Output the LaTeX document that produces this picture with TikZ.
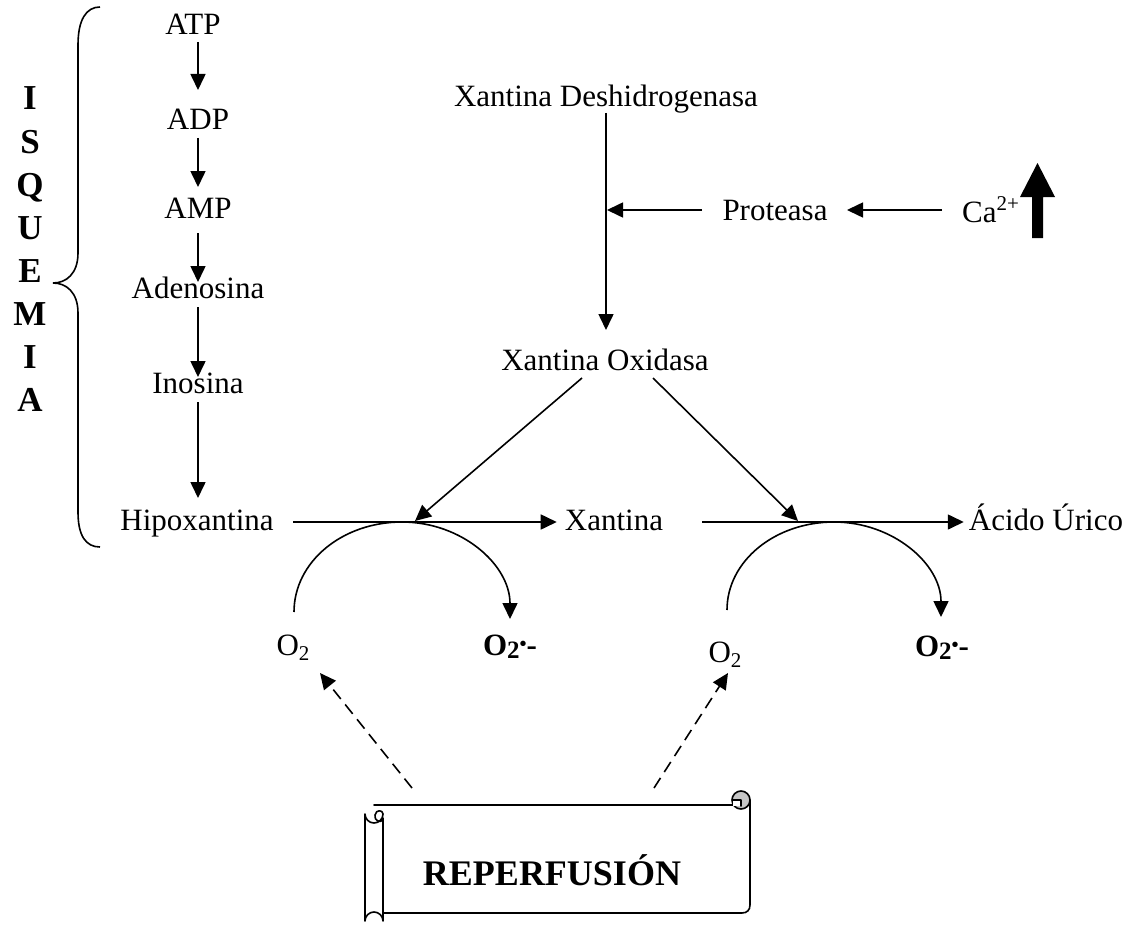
\documentclass[tikz,border=0pt]{standalone}
\usepackage{fontspec}
\setmainfont{Liberation Serif}
\usetikzlibrary{arrows.meta,calc}
\newcommand{\myotwo}{O\raisebox{-5pt}{\fontsize{21}{21}\selectfont 2}}
\newcommand{\myosup}{\textbf{O\raisebox{-3pt}{\fontsize{25}{25}\selectfont 2}\raisebox{5pt}{\fontsize{20}{20}\selectfont •}-}}
\begin{document}
\begin{tikzpicture}[x=1pt,y=-1pt,
  txt/.style={inner sep=0pt, anchor=base, font=\fontsize{31}{37}\selectfont},
  bigb/.style={inner sep=0pt, anchor=base, font=\fontsize{35}{42}\selectfont\bfseries},
  lin/.style={line width=1.6pt},
  arr/.style={lin, -{Triangle[length=16pt,width=15pt]}},
  darr/.style={arr, dash pattern=on 12pt off 7pt},
  scrl/.style={line width=1.6pt, line join=round, line cap=round}]
\useasboundingbox (0,0) rectangle (1135,931);

% ---- left column
\node[txt] (atp)  at (193,35)  {ATP};
\node[txt] (adp)  at (198,130) {ADP};
\node[txt] (amp)  at (198,218) {AMP};
\node[txt] (ade)  at (198,298) {Adenosina};
\node[txt] (ino)  at (198,393) {Inosina};
\node[txt] (hipo) at (197,530) {Hipoxantina};

\foreach \l [count=\i from 0] in {I,S,Q,U,E,M,I,A}
  \node[bigb] (isq\i) at (30,110+43.1*\i) {\l};

% brace
\draw[lin] (100,7) .. controls (86,7) and (78,20) .. (78,45) -- (78,253)
  .. controls (78,274) and (66,283) .. (53,283)
  .. controls (66,283) and (78,292) .. (78,313) -- (78,512)
  .. controls (78,536) and (86,547) .. (100,547);

\draw[arr] ($(atp.base)+(5,7)$) -- ($(adp.base)+(0,-40)$);
\draw[arr] ($(adp.base)+(0,8)$) -- ($(amp.base)+(0,-31)$);
\draw[arr] ($(amp.base)+(0,15)$) -- ($(ade.base)+(0,-16)$);
\draw[arr] ($(ade.base)+(0,9)$) -- ($(ino.base)+(0,-16)$);
\draw[arr] ($(ino.base)+(0,9)$) -- ($(hipo.base)+(1,-32)$);

% ---- enzymes
\node[txt] (xd)   at (606,107) {Xantina Deshidrogenasa};
\node[txt] (xo)   at (605,370) {Xantina Oxidasa};
\node[txt] (prot) at (775,220) {Proteasa};
\node[txt, anchor=base west] (ca) at (962,222) {Ca\raisebox{12pt}{\fontsize{21}{21}\selectfont 2+}};
\coordinate (j1) at ($(xd.base)+(1,103)$);

\draw[arr] ($(xd.base)+(0,6)$) -- ($(xo.base)+(1,-40)$);
\draw[arr] ($(prot.base)+(-73,-10)$) -- (j1);
\draw[arr] ($(ca.base west)+(-20,-12)$) -- ($(prot.base)+(72,-10)$);
\fill (1032,238) -- (1032,197) -- (1020,197) -- (1037.5,163) -- (1055,197)
  -- (1043,197) -- (1043,238) -- cycle;

% ---- purine line
\node[txt] (xan)   at (614,530) {Xantina};
\node[txt] (acido) at (1046,530) {Ácido Úrico};
\coordinate (jl) at (415,521);
\coordinate (jr) at (798,521);
\draw[arr] ($(xo.base)+(-23,8)$) -- (jl);
\draw[arr] ($(xo.base)+(48,8)$) -- (jr);
\draw[arr] ($(hipo.base)+(96,-8)$) -- ($(xan.base west)+(-8,-8)$);
\draw[arr] ($(xan.base east)+(39,-8)$) -- ($(acido.base west)+(-5,-8)$);

% ---- oxygen
\node[txt] (o2a) at (293,655) {\myotwo};
\node[txt] (s1)  at (510,655) {\myosup};
\node[txt] (o2b) at (725,662) {\myotwo};
\node[txt] (s2)  at (942,656) {\myosup};

\coordinate (a1s) at ($(o2a.base)+(1,-43)$);
\coordinate (a1t) at (402,522);
\coordinate (a1e) at ($(s1.base)+(0,-36)$);
\draw[arr] (a1s) .. controls +(0,-50) and +(-60,0) .. (a1t)
  .. controls +(60,0) and +(0,-54) .. (a1e);
\coordinate (a2s) at ($(o2b.base)+(2,-52)$);
\coordinate (a2t) at (834,522);
\coordinate (a2e) at ($(s2.base)+(-1,-39)$);
\draw[arr] (a2s) .. controls +(0,-49) and +(-59,0) .. (a2t)
  .. controls +(59,0) and +(0,-53) .. (a2e);

% ---- scroll
\node[bigb, font=\fontsize{36}{42}\selectfont\bfseries] (rep) at (552,885) {REPERFUSIÓN};
\draw[scrl] (374,805) -- (733,805);
\draw[scrl] (750,800) -- (750,905) .. controls (750,910) and (747,913) .. (742,913) -- (383,913);
\draw[scrl] (383,818) -- (383,921) arc[start angle=0,end angle=-180,radius=9]
  -- (365,814) arc[start angle=180,end angle=0,radius=9];
\draw[scrl] (383,814) .. controls (383,810) and (376,809) .. (375,815)
  .. controls (374,821) and (380,823) .. (383,820);
\draw[scrl, fill=gray!45] (741,800) circle[radius=9];
\fill[white] (733,800) rectangle (741,806);
\draw[scrl] (733,800) -- (741,800) -- (741,806);

\draw[darr] ($(rep.base)+(-140,-97)$) -- ($(o2a.base)+(27,18)$);
\draw[darr] ($(rep.base)+(102,-97)$) -- ($(o2b.base)+(3,11)$);
\end{tikzpicture}
\end{document}
